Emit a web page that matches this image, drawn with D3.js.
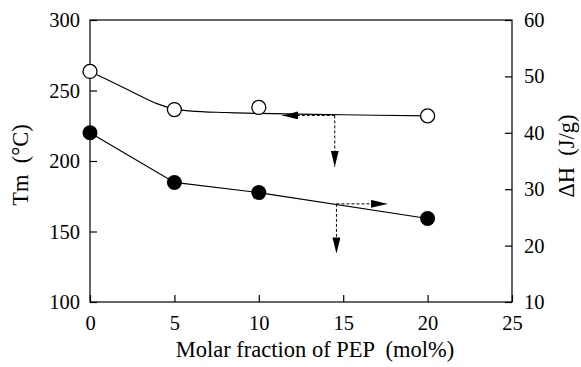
<!DOCTYPE html>
<html>
<head>
<meta charset="utf-8">
<script src="https://cdn.jsdelivr.net/npm/d3@7"></script>
<style>
  body { margin: 0; background: #fff; }
  text { white-space: pre; }
</style>
</head>
<body>
<svg id="chart" width="581" height="367"></svg>
<script>
// measured points
const molFraction = [0, 5, 10, 20];
const tmValues = [263.5, 236.5, 238, 232];      // open circles, left axis
const dhValues = [40, 31.2, 29.4, 24.8];         // filled circles, right axis

// fitted curves
const tmFitX = [0, 2, 4, 5, 6, 8, 10, 15, 20];
const tmFitY = [263.5, 252, 240.5, 237, 235.4, 234.4, 233.8, 232.8, 232];
const dhFitX = [0, 5, 10, 20];
const dhFitY = [40, 31.2, 29.4, 24.8];

const xTicks = [0, 5, 10, 15, 20, 25];
const tmTicks = [100, 150, 200, 250, 300];
const dhTicks = [10, 20, 30, 40, 50, 60];

// guide arrows: origin on curve, horizontal tip, vertical tip
const tmArrow = {x: 14.5, y: 232.3, hx: 11.4, vy: 196};
const dhArrow = {x: 14.6, y: 27.4, hx: 17.6, vy: 18.6};

const FONT = '"Liberation Serif", "Times New Roman", serif';

const margin = {top: 20, right: 69, bottom: 65, left: 90},
  width = 581 - margin.left - margin.right,
  height = 367 - margin.top - margin.bottom;

const svg = d3.select("#chart");
const g = svg.append("g").attr("transform", "translate(" + margin.left + "," + margin.top + ")");

const x = d3.scaleLinear().domain([0, 25]).range([0, width]);
const yL = d3.scaleLinear().domain([100, 300]).range([height, 0]);
const yR = d3.scaleLinear().domain([10, 60]).range([height, 0]);

// arrowhead marker
const defs = svg.append("defs");
defs.append("marker")
  .attr("id", "head")
  .attr("viewBox", "0 0 16 8")
  .attr("refX", 16).attr("refY", 4)
  .attr("markerWidth", 16).attr("markerHeight", 8)
  .attr("markerUnits", "userSpaceOnUse")
  .attr("orient", "auto")
  .append("path").attr("d", "M0,0 L16,4 L0,8 Z").attr("fill", "#000");

// frame
g.append("rect")
  .attr("width", width).attr("height", height)
  .attr("fill", "none").attr("stroke", "#000").attr("stroke-width", 1.2);

// axes with inward ticks
const xAxis = d3.axisBottom(x).tickValues(xTicks).tickSize(-7).tickPadding(13).tickSizeOuter(0);
const lAxis = d3.axisLeft(yL).tickValues(tmTicks).tickSize(-7).tickPadding(10).tickSizeOuter(0);
const rAxis = d3.axisRight(yR).tickValues(dhTicks).tickSize(-7).tickPadding(12).tickSizeOuter(0);

function style(sel) {
  sel.select(".domain").remove();
  sel.selectAll("line").attr("stroke", "#000").attr("stroke-width", 1.2);
  sel.selectAll("text").style("font-family", FONT).style("font-size", "20.5px").attr("fill", "#000");
}

g.append("g").attr("transform", "translate(0," + height + ")").call(xAxis).call(style);
g.append("g").call(lAxis).call(style);
g.append("g").attr("transform", "translate(" + width + ",0)").call(rAxis).call(style);

// fit lines
const tmLine = d3.line().x(d => x(d[0])).y(d => yL(d[1])).curve(d3.curveCatmullRom);
const dhLine = d3.line().x(d => x(d[0])).y(d => yR(d[1]));

g.append("path")
  .datum(tmFitX.map((v, i) => [v, tmFitY[i]]))
  .attr("d", tmLine)
  .attr("fill", "none").attr("stroke", "#000").attr("stroke-width", 1.2);

g.append("path")
  .datum(dhFitX.map((v, i) => [v, dhFitY[i]]))
  .attr("d", dhLine)
  .attr("fill", "none").attr("stroke", "#000").attr("stroke-width", 1.2);

// dashed guide arrows
function arrow(a, ys) {
  const ox = x(a.x), oy = ys(a.y);
  g.append("line")
    .attr("x1", ox).attr("y1", oy).attr("x2", x(a.hx)).attr("y2", oy)
    .attr("stroke", "#000").attr("stroke-width", 1).attr("stroke-dasharray", "3,2")
    .attr("marker-end", "url(#head)");
  g.append("line")
    .attr("x1", ox).attr("y1", oy).attr("x2", ox).attr("y2", ys(a.vy))
    .attr("stroke", "#000").attr("stroke-width", 1).attr("stroke-dasharray", "3,2")
    .attr("marker-end", "url(#head)");
}
arrow(tmArrow, yL);
arrow(dhArrow, yR);

// points
g.selectAll(".tm")
  .data(molFraction.map((v, i) => [v, tmValues[i]]))
  .enter().append("circle")
  .attr("cx", d => x(d[0])).attr("cy", d => yL(d[1])).attr("r", 7)
  .attr("fill", "#fff").attr("stroke", "#000").attr("stroke-width", 1.3);

g.selectAll(".dh")
  .data(molFraction.map((v, i) => [v, dhValues[i]]))
  .enter().append("circle")
  .attr("cx", d => x(d[0])).attr("cy", d => yR(d[1])).attr("r", 7.5)
  .attr("fill", "#000");

// axis titles
svg.append("text")
  .attr("x", 315).attr("y", 357)
  .attr("text-anchor", "middle")
  .style("font-family", FONT).style("font-size", "22.5px")
  .text("Molar fraction of PEP  (mol%)");

svg.append("text")
  .attr("transform", "translate(28,165) rotate(-90)")
  .attr("text-anchor", "middle")
  .style("font-family", FONT).style("font-size", "22.5px")
  .text("Tm  (°C)");

svg.append("text")
  .attr("transform", "translate(574,156) rotate(-90)")
  .attr("text-anchor", "middle")
  .style("font-family", FONT).style("font-size", "22.5px")
  .text("ΔH  (J/g)");
</script>
</body>
</html>
